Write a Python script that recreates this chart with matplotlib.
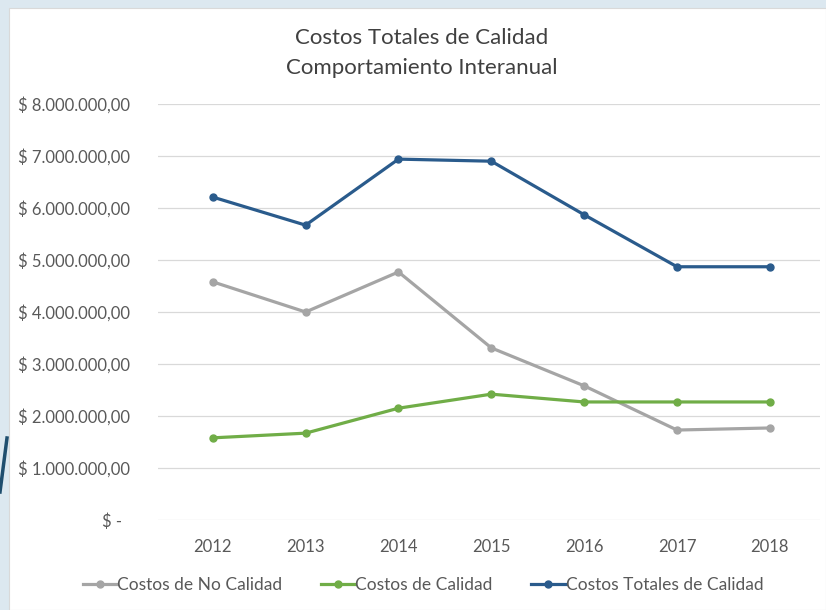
import matplotlib.pyplot as plt
import matplotlib.patches as mpatches
from matplotlib.lines import Line2D
from matplotlib.ticker import FuncFormatter

years = ['2012', '2013', '2014', '2015', '2016', '2017', '2018']
no_calidad = [4.58e6, 4.00e6, 4.77e6, 3.31e6, 2.58e6, 1.73e6, 1.77e6]
calidad = [1.58e6, 1.67e6, 2.15e6, 2.42e6, 2.27e6, 2.27e6, 2.27e6]
totales = [6.21e6, 5.67e6, 6.94e6, 6.90e6, 5.87e6, 4.87e6, 4.87e6]

plt.rcParams['font.family'] = ['Lato', 'DejaVu Sans']

fig = plt.figure(figsize=(8.26, 6.10), dpi=100)
fig.patch.set_facecolor('#dce8f0')

# slide background: white chart box plus a bit of the decorative curve on the left
W, H = 826, 610
fig.patches.append(mpatches.Rectangle((9 / W, 0), 1 - 9 / W, 1 - 8 / H,
                                      transform=fig.transFigure, facecolor='white',
                                      edgecolor='#d9d9d9', linewidth=0.8, zorder=-10))
fig.lines.append(Line2D([0 / W, 7 / W], [1 - 492 / H, 1 - 438 / H], transform=fig.transFigure,
                        color='#1f4e6e', lw=2.5, zorder=-5))

ax = fig.add_axes([158 / W, 90 / H, (820 - 158) / W, (506 - 90) / H])
ax.set_facecolor('none')

x = range(len(years))
ax.plot(x, no_calidad, color='#a5a5a5', lw=2.3, marker='o', ms=5, label='Costos de No Calidad')
ax.plot(x, calidad, color='#70ad47', lw=2.3, marker='o', ms=5, label='Costos de Calidad')
ax.plot(x, totales, color='#2a5b8c', lw=2.3, marker='o', ms=5, label='Costos Totales de Calidad')

ax.set_xlim(-0.59, 6.54)
ax.set_ylim(0, 8e6)
ax.set_yticks([i * 1e6 for i in range(9)])


def fmt(v, pos):
    if v == 0:
        return '$ -  '
    s = '{:,.2f}'.format(v).replace(',', 'X').replace('.', ',').replace('X', '.')
    return '$ ' + s


ax.yaxis.set_major_formatter(FuncFormatter(fmt))
ax.set_xticks(list(x))
ax.set_xticklabels(years)
ax.grid(axis='y', color='#d9d9d9', lw=0.9)
ax.set_axisbelow(True)
for s in ax.spines.values():
    s.set_visible(False)
ax.tick_params(length=0, labelsize=12, labelcolor='#595959', pad=20)
ax.tick_params(axis='x', pad=14)

fig.text(422 / W, 1 - 38 / H, 'Costos Totales de Calidad', ha='center', va='center',
         fontsize=16, color='#404040')
fig.text(422 / W, 1 - 68 / H, 'Comportamiento Interanual', ha='center', va='center',
         fontsize=16, color='#404040')

fig.legend(loc='center', bbox_to_anchor=(423 / W, 1 - 585 / H), ncol=3, frameon=False,
           fontsize=12.5, labelcolor='#595959', handlelength=2.0, handletextpad=0.0,
           columnspacing=2.2)

fig.savefig('out.png', dpi=100, facecolor=fig.get_facecolor())
